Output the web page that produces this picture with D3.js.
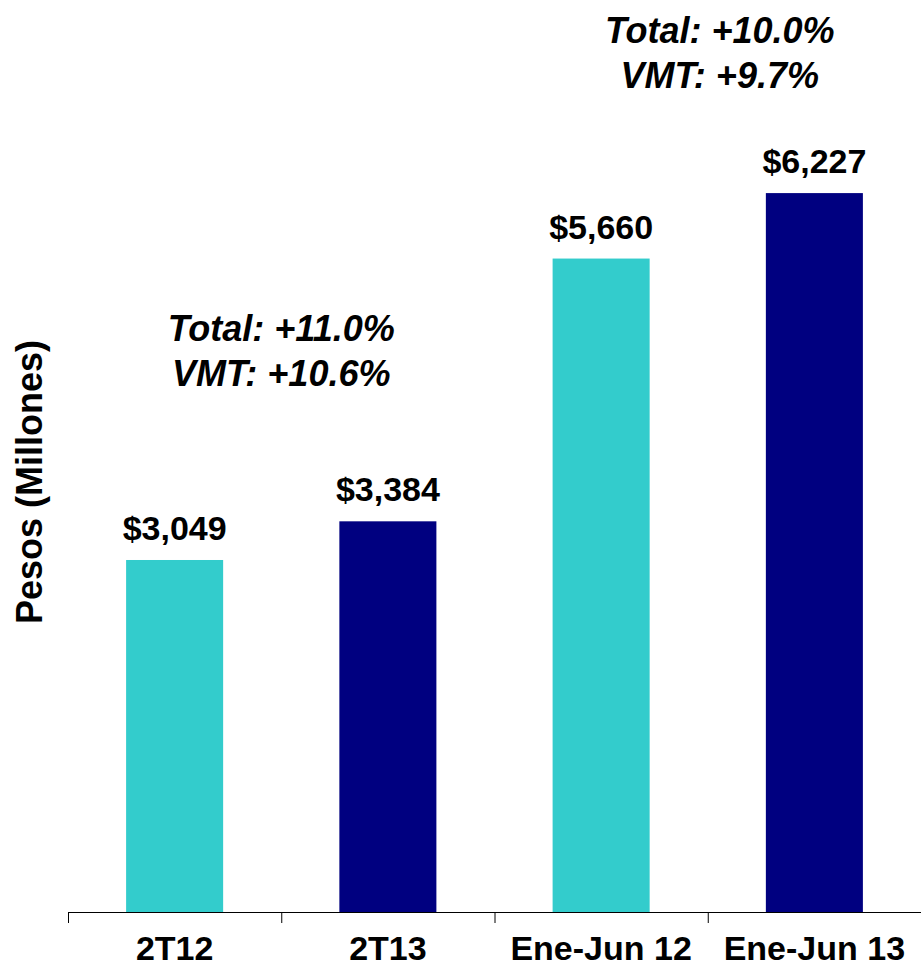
<!DOCTYPE html>
<html>
<head>
<meta charset="utf-8">
<script src="https://cdn.jsdelivr.net/npm/d3@7"></script>
<style>
  body { margin: 0; background: #fff; overflow: hidden; }
  text { font-family: "Liberation Sans", Arial, sans-serif; }
</style>
</head>
<body>
<div id="chart"></div>
<script>
const categories = ["2T12", "2T13", "Ene-Jun 12", "Ene-Jun 13"]
const values = [3049, 3384, 5660, 6227]
const valueLabels = ["$3,049", "$3,384", "$5,660", "$6,227"]
const barColors = ["#33CCCC", "#000080", "#33CCCC", "#000080"]
const noteLeft = ["Total: +11.0%", "VMT: +10.6%"]
const noteRight = ["Total: +10.0%", "VMT: +9.7%"]

const width = 921
const height = 968
const margin = { top: 20, right: 0, bottom: 56, left: 68 }

const svg = d3.select("#chart")
    .append("svg")
    .attr("width", width)
    .attr("height", height)

// scales
const x = d3.scaleBand()
    .domain(categories)
    .range([margin.left, width - margin.right])
    .paddingInner(0.545)
    .paddingOuter(0.2725)

const y = d3.scaleLinear()
    .domain([0, 7000])
    .range([height - margin.bottom, height - margin.bottom - 7000 * 0.11545])

// bars
svg.append("g")
    .selectAll("rect")
    .data(values)
    .join("rect")
    .attr("x", (d, i) => x(categories[i]))
    .attr("y", d => y(d))
    .attr("width", x.bandwidth())
    .attr("height", d => y(0) - y(d))
    .attr("fill", (d, i) => barColors[i])

// value labels
svg.append("g")
    .selectAll("text")
    .data(values)
    .join("text")
    .attr("x", (d, i) => x(categories[i]) + x.bandwidth() / 2)
    .attr("y", d => y(d) - 20)
    .attr("text-anchor", "middle")
    .attr("font-size", 34)
    .attr("font-weight", "bold")
    .text((d, i) => valueLabels[i])

// x axis
const step = x.step()
const ticks = d3.range(categories.length).map(i => margin.left + i * step)
const axis = svg.append("g")
axis.append("line")
    .attr("x1", margin.left).attr("x2", width)
    .attr("y1", y(0) + 0.5).attr("y2", y(0) + 0.5)
    .attr("stroke", "#000").attr("stroke-width", 1.2)
axis.selectAll(".tick")
    .data(ticks)
    .join("line")
    .attr("class", "tick")
    .attr("x1", d => d + 0.5).attr("x2", d => d + 0.5)
    .attr("y1", y(0)).attr("y2", y(0) + 11)
    .attr("stroke", "#000")
axis.selectAll("text")
    .data(categories)
    .join("text")
    .attr("x", d => x(d) + x.bandwidth() / 2)
    .attr("y", y(0) + 48)
    .attr("text-anchor", "middle")
    .attr("font-size", 34)
    .attr("font-weight", "bold")
    .text(d => d)

// y axis title
svg.append("text")
    .attr("transform", "translate(42,482) rotate(-90)")
    .attr("text-anchor", "middle")
    .attr("font-size", 36)
    .attr("font-weight", "bold")
    .text("Pesos (Millones)")

// annotations
function note(lines, cx, top) {
    svg.append("text")
        .attr("text-anchor", "middle")
        .attr("font-size", 36)
        .attr("font-weight", "bold")
        .attr("font-style", "italic")
        .selectAll("tspan")
        .data(lines)
        .join("tspan")
        .attr("x", cx)
        .attr("y", (d, i) => top + i * 45)
        .text(d => d)
}
note(noteLeft, x(categories[1]) - (x.step() - x.bandwidth()) / 2, 341)
note(noteRight, x(categories[3]) - (x.step() - x.bandwidth()) / 2 + 12, 43)
</script>
</body>
</html>
